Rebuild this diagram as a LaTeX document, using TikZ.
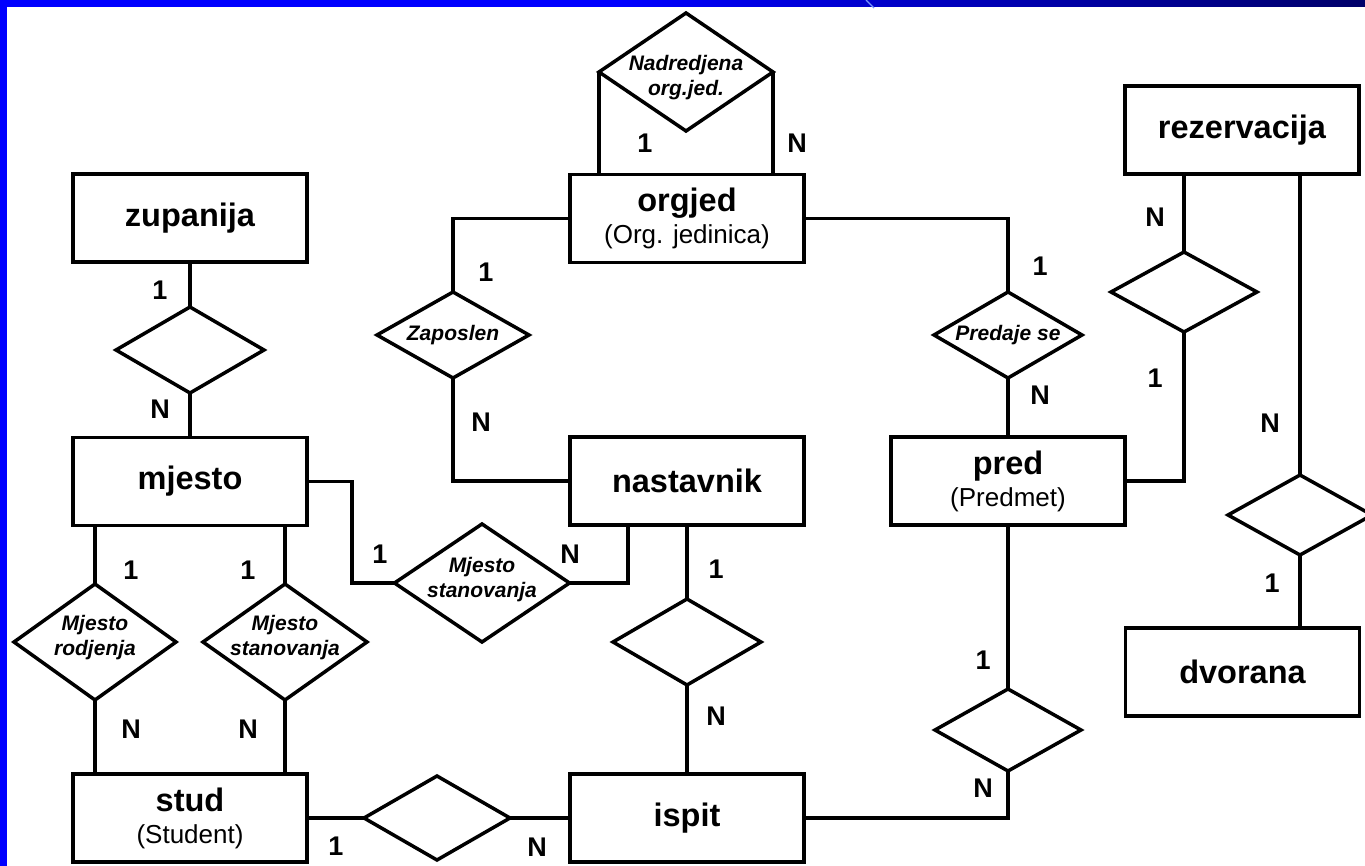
\documentclass[tikz,border=0pt]{standalone}
\usepackage{fontspec}
\setmainfont{Liberation Sans}
\usetikzlibrary{shapes.geometric,calc}

\definecolor{bandblue}{RGB}{0,0,255}
\definecolor{banddark}{RGB}{0,0,105}
\definecolor{streak}{RGB}{120,150,255}

\newcommand\entfont{\fontsize{32.5}{36}\selectfont\bfseries}
\newcommand\subfont{\fontsize{26}{30}\selectfont\mdseries}
\newcommand\relfont{\fontsize{21}{25}\selectfont\bfseries\itshape}
\newcommand\cardfont{\fontsize{27}{30}\selectfont\bfseries}

\begin{document}
\begin{tikzpicture}[x=1pt,y=-1pt,
  every node/.style={inner sep=0pt, outer sep=0pt},
  entity/.style={draw, line width=3.5pt, fill=white, minimum width=234pt,
                 minimum height=88pt, align=center, font=\entfont},
  rel/.style={draw, diamond, line width=3.5pt, fill=white},
  reltext/.style={font=\relfont, align=center},
  card/.style={font=\cardfont},
  link/.style={line width=3.5pt}]

\useasboundingbox (0,0) rectangle (1365,866);
\fill[white] (0,0) rectangle (1365,866);

% slide frame: blue bar on top and on the left
\fill[bandblue] (0,0) rectangle (620,7);
\shade[left color=bandblue, right color=banddark] (619,0) rectangle (1365,7);
\fill[bandblue] (0,0) rectangle (7,866);
\draw[streak, line width=1.2pt] (866,0) -- (874,8);

% entities
\node[entity] (zup)  at (190,218)   {zupanija};
\node[entity] (mje)  at (190,481.5) {mjesto};
\node[entity] (stud) at (190,818)   {stud\\[-4pt]{\subfont (Student)}};
\node[entity] (org)  at (687,218.5) {orgjed\\[-4pt]{\subfont (Org. jedinica)}};
\node[entity] (nast) at (687,481)   {nastavnik};
\node[entity] (isp)  at (687,818)   {ispit};
\node[entity] (pred) at (1008,481)  {pred\\[-4pt]{\subfont (Predmet)}};
\node[entity] (rez)  at (1242,130)  {rezervacija};
\node[entity] (dvo)  at (1242.5,672) {dvorana};

% relationships
\node[rel, minimum width=148pt, minimum height=86pt]  (zm)  at (190,350) {};
\node[rel, minimum width=152pt, minimum height=86pt]  (zap) at (453,335) {};
\node[rel, minimum width=148pt, minimum height=86pt]  (prs) at (1008,335) {};
\node[rel, minimum width=174pt, minimum height=118pt] (nad) at (686,72) {};
\node[rel, minimum width=162pt, minimum height=116pt] (mro) at (95,642) {};
\node[rel, minimum width=164pt, minimum height=116pt] (mst) at (285,642) {};
\node[rel, minimum width=175pt, minimum height=118pt] (mna) at (482,583) {};
\node[rel, minimum width=148pt, minimum height=86pt]  (ni)  at (687,642) {};
\node[rel, minimum width=146pt, minimum height=84pt]  (si)  at (437,818) {};
\node[rel, minimum width=146pt, minimum height=82pt]  (pi)  at (1008,730) {};
\node[rel, minimum width=146pt, minimum height=80pt]  (r1)  at (1184,292) {};
\node[rel, minimum width=144pt, minimum height=80pt]  (r2)  at (1300,515) {};

% relationship names
\node[reltext] (tnad) at (686,78)  {Nadredjena\\org.jed.};
\node[reltext] (tzap) at (453,335) {Zaposlen};
\node[reltext] (tprs) at (1008,335) {Predaje se};
\node[reltext] (tmro) at (95,638)  {Mjesto\\rodjenja};
\node[reltext] (tmst) at (285,638) {Mjesto\\stanovanja};
\node[reltext] (tmna) at (482,580) {Mjesto\\stanovanja};

% connectors
\coordinate (mjeturn) at ($(mje.east)+(45,0)$);
\coordinate (nastfoot) at ($(nast.south west)+(58,0)$);
\draw[link] (zup.south) -- (zm.north);
\draw[link] (zm.south) -- (mje.north);
\draw[link] (mje.south -| mro.north) -- (mro.north);
\draw[link] (mro.south) -- (mro.south |- stud.north);
\draw[link] (mje.south -| mst.north) -- (mst.north);
\draw[link] (mst.south) -- (mst.south |- stud.north);
\draw[link] (mje.east) -- (mjeturn) |- (mna.west);
\draw[link] (mna.east) -| (nastfoot);
\draw[link] (org.west) -| (zap.north);
\draw[link] (zap.south) |- (nast.west);
\draw[link] (org.east) -| (prs.north);
\draw[link] (prs.south) -- (prs.south |- pred.north);
\draw[link] (nad.west) -- (nad.west |- org.north);
\draw[link] (nad.east) -- (nad.east |- org.north);
\draw[link] (nast.south) -- (ni.north);
\draw[link] (ni.south) -- (isp.north);
\draw[link] (stud.east) -- (si.west);
\draw[link] (si.east) -- (isp.west);
\draw[link] (pred.south -| pi.north) -- (pi.north);
\draw[link] (pi.south) |- (isp.east);
\draw[link] (rez.south -| r1.north) -- (r1.north);
\draw[link] (r1.south) |- (pred.east);
\draw[link] (rez.south -| r2.north) -- (r2.north);
\draw[link] (r2.south) -- (r2.south |- dvo.north);

% cardinalities
\node[card] (c1)  at (160,290)  {1};
\node[card] (c2)  at (160,409)  {N};
\node[card] (c3)  at (131,570)  {1};
\node[card] (c4)  at (248,570)  {1};
\node[card] (c5)  at (131,729)  {N};
\node[card] (c6)  at (248,729)  {N};
\node[card] (c7)  at (380,554)  {1};
\node[card] (c8)  at (570,554)  {N};
\node[card] (c9)  at (336,846)  {1};
\node[card] (c10) at (537,847)  {N};
\node[card] (c11) at (486,272)  {1};
\node[card] (c12) at (481,422)  {N};
\node[card] (c13) at (645,143)  {1};
\node[card] (c14) at (797,143)  {N};
\node[card] (c15) at (716,569)  {1};
\node[card] (c16) at (716,716)  {N};
\node[card] (c17) at (1040,266) {1};
\node[card] (c18) at (1040,395) {N};
\node[card] (c19) at (983,660)  {1};
\node[card] (c20) at (983,788)  {N};
\node[card] (c21) at (1155,217) {N};
\node[card] (c22) at (1155,378) {1};
\node[card] (c23) at (1270,423) {N};
\node[card] (c24) at (1272,583) {1};
\end{tikzpicture}
\end{document}
